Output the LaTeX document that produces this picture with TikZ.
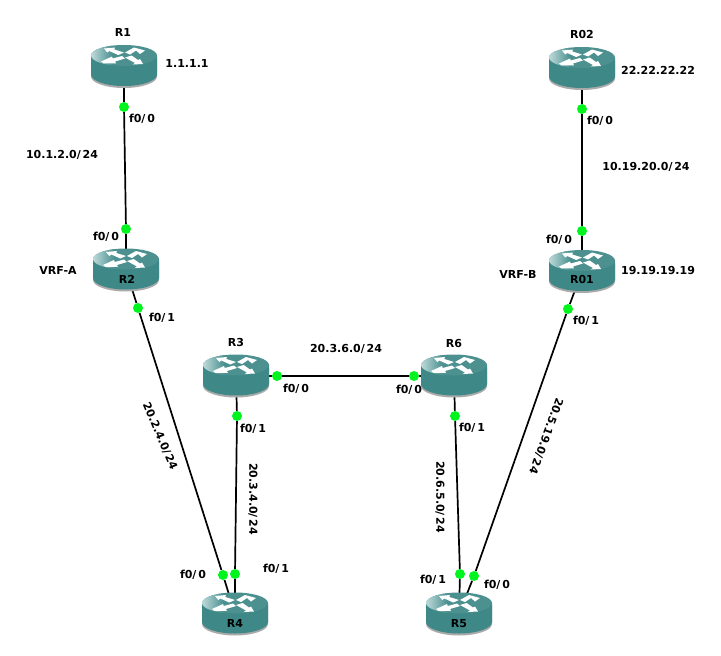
\documentclass[tikz,border=0pt]{standalone}
\usepackage{fontspec}
\setmainfont{DejaVu Sans}
\usetikzlibrary{shapes}

\definecolor{routerSide}{RGB}{62,136,136}
\definecolor{routerTop}{RGB}{76,144,144}
\definecolor{routerLight}{RGB}{190,218,218}
\definecolor{routerShade}{RGB}{170,170,170}
\definecolor{portGreen}{RGB}{0,245,30}

\tikzset{
  lineLink/.style={-,line width=1.7pt,black},
  labelText/.style={font=\bfseries\fontsize{11}{13}\selectfont,inner sep=0pt},
  portDot/.style={shape=circle,fill=portGreen,inner sep=0pt,minimum size=10pt},
  routerMark/.style={shape=circle,inner sep=0pt,minimum size=1pt},
  arrowMark/.style={fill=white,draw=none},
}

% one router icon, centred on the named node
\newcommand{\routerIcon}[1]{
  \begin{scope}[shift={(#1)}]
    \fill[routerShade] (-33,-8) -- (-33,10) arc[start angle=180,end angle=0,x radius=33,y radius=11.5]
      -- (33,-8) -- cycle;
    \fill[routerSide] (-33,-11) -- (-33,8) arc[start angle=180,end angle=0,x radius=33,y radius=11.5]
      -- (33,-11) -- cycle;
    \fill[routerTop] (0,-11) ellipse[x radius=33,y radius=10.5];
    \begin{scope}
      \clip (0,-11) ellipse[x radius=33,y radius=10.5];
      \shade[left color=routerLight,right color=routerTop] (-33,-22) rectangle (-12,0);
    \end{scope}
    %% the four white arrows
    \fill[arrowMark] (-20,-18) -- (-9,-19) -- (-9.7,-17) -- (0,-14) -- (-5.7,-11.5) -- (-14.7,-15.5) -- (-16.7,-14) -- cycle;
    \fill[arrowMark] (21,-16) -- (10,-19) -- (1,-14) -- (6,-12) -- (12,-16) -- (16,-12.5) -- cycle;
    \fill[arrowMark] (-23,-5) -- (-12,-10) -- (-11.3,-8) -- (-2,-10.5) -- (1,-8) -- (-9,-5) -- (-8,-3) -- (-20.7,-3.2) -- cycle;
    \fill[arrowMark] (1,-9) -- (7.7,-11) -- (14,-6.5) -- (16,-7.5) -- (19,-2.5) -- (8.7,-2) -- (11,-3.5) -- cycle;
  \end{scope}
}

\begin{document}
\begin{tikzpicture}[x=1pt,y=-1pt]
\useasboundingbox (0,0) rectangle (721,656);
%% routers
\foreach \routername/\x/\y in {
  R1/124/66.5, R2/126/270, R3/236/376, R4/235/614,
  R6/454/376, R5/459/614, R01/582/271.5, R02/582/68.5}
{
  \node[routerMark] (\routername) at (\x,\y) {};
}
%% ports
\foreach \portname/\x/\y in {
  p1/124/107, p2a/126/229, p2b/138/308, p3a/277/376, p3b/237/416,
  p4a/223/575, p4b/235/574, p6a/414/376, p6b/455/416, p5a/474/576,
  p5b/460/574, p01a/582/231, p01b/568/309, p02/582/109}
{
  \node[portDot] (\portname) at (\x,\y) {};
}
%% links
\path
(R1) edge[lineLink] (p1)
(p1) edge[lineLink] (p2a)
(p2a) edge[lineLink] (R2)
(R2) edge[lineLink] (p2b)
(p2b) edge[lineLink] (p4a)
(p4a) edge[lineLink] (R4)
(R3) edge[lineLink] (p3a)
(p3a) edge[lineLink] (p6a)
(p6a) edge[lineLink] (R6)
(R3) edge[lineLink] (p3b)
(p3b) edge[lineLink] (p4b)
(p4b) edge[lineLink] (R4)
(R6) edge[lineLink] (p6b)
(p6b) edge[lineLink] (p5b)
(p5b) edge[lineLink] (R5)
(p5a) edge[lineLink] (R5)
(p5a) edge[lineLink] (p01b)
(p01b) edge[lineLink] (R01)
(R01) edge[lineLink] (p01a)
(p01a) edge[lineLink] (p02)
(p02) edge[lineLink] (R02);
%% icons go over the links
\foreach \routername in {R1,R2,R3,R4,R6,R5,R01,R02}
{
  \routerIcon{\routername}
}
%% labels
\foreach \labelname/\x/\y/\labeltext in {
  l1/123/32/R1, l2/127/279/R2, l3/236/342/R3, l4/235/623/R4,
  l5/459/624/R5, l6/454/343/R6, l7/582/279/R01, l8/582/34/R02,
  l9/187/63/1.1.1.1, l10/658/70/22.22.22.22, l11/658/270/19.19.19.19,
  l12/58/270/VRF-A, l13/518/274/VRF-B, l14/62/155/10.1.2.0\slash\,24,
  l15/646/167/10.19.20.0\slash\,24, l16/346/349/20.3.6.0\slash\,24,
  l17/142/119/f0\slash\,0, l18/106/237/f0\slash\,0, l19/162/318/f0\slash\,1,
  l20/296/389/f0\slash\,0, l21/253/429/f0\slash\,1, l22/193/575/f0\slash\,0,
  l23/276/569/f0\slash\,1, l24/409/390/f0\slash\,0, l25/472/428/f0\slash\,1,
  l26/433/580/f0\slash\,1, l27/497/585/f0\slash\,0, l28/600/121/f0\slash\,0,
  l29/559/240/f0\slash\,0, l30/586/321/f0\slash\,1}
{
  \node[labelText] (\labelname) at (\x,\y) {\labeltext};
}
%% subnet names along the slanted links
\foreach \labelname/\x/\y/\labelangle/\labeltext in {
  s1/160/436/-67/20.2.4.0\slash\,24, s2/253/499/-90/20.3.4.0\slash\,24,
  s3/440/497/-90/20.6.5.0\slash\,24, s4/546/436/-110/20.5.19.0\slash\,24}
{
  \node[labelText,rotate=\labelangle] (\labelname) at (\x,\y) {\labeltext};
}
\end{tikzpicture}
\end{document}
